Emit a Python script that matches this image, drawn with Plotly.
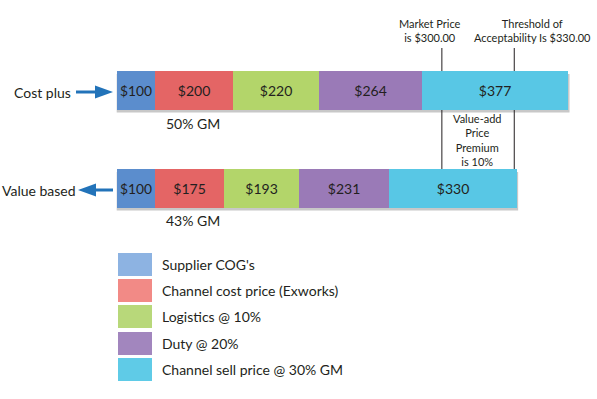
import plotly.graph_objects as go

# ---- data ----
strategies = ["Cost plus", "Value based"]
components = ["Supplier COG's", "Channel cost price (Exworks)", "Logistics @ 10%",
              "Duty @ 20%", "Channel sell price @ 30% GM"]
cost_plus = [100, 200, 220, 264, 377]
value_based = [100, 175, 193, 231, 330]
margin_labels = ["50% GM", "43% GM"]
reference_line_x = [836, 1022]
reference_labels = ["Market Price<br>is $300.00", "Threshold of<br>Acceptability Is $330.00"]
premium_label = "Value-add<br>Price<br>Premium<br>is 10%"

bar_colors = ["#5b8dcd", "#e46565", "#b3d56a", "#9a7ab7", "#58c7e5"]
legend_colors = ["#8db3e2", "#f28a86", "#b8d87a", "#a286be", "#5fcbe7"]

W, H = 597, 399
FONT = "Lato"
TXT = "#231f20"

# pixel -> axis mapping
px0, scale = 116.5, 0.3892          # px of x=0, px per unit
x0 = -px0 / scale
x1 = x0 + W / scale
yc_top, yc_bot = 90.5, 188.5
ppu = yc_bot - yc_top
y_lo = -yc_top / ppu
y_hi = 1 + (H - yc_bot) / ppu
bar_w = 39 / ppu


def py(p):
    return 1 - p / H


def pxp(p):
    return p / W


fig = go.Figure()
for i, name in enumerate(components):
    vals = [cost_plus[i], value_based[i]]
    fig.add_trace(go.Bar(
        y=strategies, x=vals, orientation="h", name=name,
        marker=dict(color=bar_colors[i], line=dict(width=0)),
        width=bar_w,
        text=[f"${v}" for v in vals], textposition="inside",
        insidetextanchor="middle", textangle=0,
        textfont=dict(family=FONT, size=14, color=TXT),
        cliponaxis=False, showlegend=False,
    ))

shapes = []
# bar shadows
for k, tot in enumerate([sum(cost_plus), sum(value_based)]):
    shapes.append(dict(type="rect", xref="x", yref="y", layer="below",
                       x0=0.5, x1=tot + 3, y0=k - bar_w / 2 + 0.03, y1=k + bar_w / 2 + 0.025,
                       fillcolor="#c8c8c8", line=dict(width=0)))

# reference lines
for xv in reference_line_x:
    shapes.append(dict(type="line", xref="x", yref="paper", x0=xv, x1=xv,
                       y0=py(48), y1=py(71), line=dict(color="#231f20", width=1)))
    shapes.append(dict(type="line", xref="x", yref="paper", x0=xv, x1=xv,
                       y0=py(110), y1=py(169), line=dict(color="#231f20", width=1)))

# arrows
ac = "#2273b9"
shapes.append(dict(type="line", xref="paper", yref="paper", x0=pxp(76), x1=pxp(97),
                   y0=py(92), y1=py(92), line=dict(color=ac, width=3)))
shapes.append(dict(type="path", xref="paper", yref="paper",
                   path=f"M {pxp(95)} {py(85.5)} L {pxp(113)} {py(92)} L {pxp(95)} {py(98.5)} Z",
                   fillcolor=ac, line=dict(width=0)))
shapes.append(dict(type="line", xref="paper", yref="paper", x0=pxp(94), x1=pxp(113),
                   y0=py(190), y1=py(190), line=dict(color=ac, width=3)))
shapes.append(dict(type="path", xref="paper", yref="paper",
                   path=f"M {pxp(96)} {py(183.5)} L {pxp(78)} {py(190)} L {pxp(96)} {py(196.5)} Z",
                   fillcolor=ac, line=dict(width=0)))

# legend swatches
leg_tops = [253, 279, 305, 332, 358]
for c, t in zip(legend_colors, leg_tops):
    shapes.append(dict(type="rect", xref="paper", yref="paper",
                       x0=pxp(118), x1=pxp(152), y0=py(t), y1=py(t + 23),
                       fillcolor=c, line=dict(width=0)))

ann = []
# strategy labels
ann.append(dict(text=strategies[0], x=pxp(73), y=py(92), xanchor="right", yanchor="middle"))
ann.append(dict(text=strategies[1], x=pxp(78), y=py(190), xanchor="right", yanchor="middle"))
# GM labels
ann.append(dict(text=margin_labels[0], x=pxp(193), y=py(123), xanchor="center", yanchor="middle"))
ann.append(dict(text=margin_labels[1], x=pxp(193), y=py(220), xanchor="center", yanchor="middle"))
# legend texts
for name, t in zip(components, leg_tops):
    ann.append(dict(text=name, x=pxp(160), y=py(t + 11.5), xanchor="left", yanchor="middle"))
for a in ann:
    a.update(xref="paper", yref="paper", showarrow=False,
             font=dict(family=FONT, size=14, color=TXT))

small = []
small.append(dict(text=reference_labels[0], x=pxp(430), y=py(30.5)))
small.append(dict(text=reference_labels[1], x=pxp(532), y=py(30.5)))
small.append(dict(text=premium_label, x=pxp(477), y=py(140.5)))
for a in small:
    a.update(xref="paper", yref="paper", showarrow=False, xanchor="center", yanchor="middle",
             align="center", font=dict(family=FONT, size=11, color=TXT))

fig.update_layout(
    width=W, height=H, margin=dict(l=0, r=0, t=0, b=0),
    paper_bgcolor="white", plot_bgcolor="white",
    barmode="stack", bargap=0,
    xaxis=dict(range=[x0, x1], visible=False, fixedrange=True),
    yaxis=dict(range=[y_hi, y_lo], visible=False, type="category",
               categoryorder="array", categoryarray=strategies, fixedrange=True),
    shapes=shapes, annotations=ann + small,
    uniformtext=dict(mode=None),
)

fig.write_html("out.html", config={"displayModeBar": False},
               post_script="document.body.style.margin='0';document.body.style.overflow='hidden';")
